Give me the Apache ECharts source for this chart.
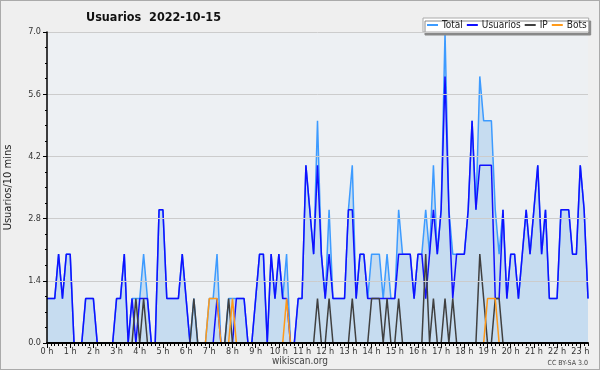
<!DOCTYPE html>
<html>
<head>
<meta charset="utf-8">
<script src="https://cdn.jsdelivr.net/npm/echarts@6/dist/echarts.min.js"></script>
<style>
html,body{margin:0;padding:0;background:#efefef;}
#c{width:600px;height:370px;box-sizing:border-box;border:1px solid #aaaaaa;}
</style>
</head>
<body>
<div id="c"></div>
<script>
// 10-minute slots from 00:00 to 23:20 (141 points)
const hourLabels = ["0 h","1 h","2 h","3 h","4 h","5 h","6 h","7 h","8 h","9 h","10 h","11 h","12 h","13 h","14 h","15 h","16 h","17 h","18 h","19 h","20 h","21 h","22 h","23 h"];
const slots = [];
for (let h = 0; h < 24; h++) for (let m = 0; m < 60; m += 10) slots.push((h < 10 ? '0' : '') + h + ':' + (m === 0 ? '00' : m));
const categories = slots.slice(0, 141);

const total = [
1,1,1,2,1,2,2,0,0,0,
1,1,1,0,0,0,0,0,1,1,
2,0,1,1,1,2,1,0,0,3,
3,1,1,1,1,2,1,0,1,0,
0,0,1,1,2,0,0,1,1,1,
1,1,0,0,1,2,2,0,2,1,
2,1,2,0,0,1,1,4,3,2,
5,2,1,3,1,1,1,1,3,4,
1,2,2,1,2,2,2,1,2,1,
1,3,2,2,2,1,2,2,3,2,
4,2,3,7,3,2,2,2,2,3,
5,3,6,5,5,5,3,2,3,1,
2,2,1,2,3,2,3,4,2,3,
1,1,1,3,3,3,2,2,4,3,
1];
const usuarios = [
1,1,1,2,1,2,2,0,0,0,
1,1,1,0,0,0,0,0,1,1,
2,0,1,0,1,1,1,0,0,3,
3,1,1,1,1,2,1,0,0,0,
0,0,0,0,1,0,0,0,0,1,
1,1,0,0,1,2,2,0,2,1,
2,1,1,0,0,1,1,4,3,2,
4,2,1,2,1,1,1,1,3,3,
1,2,2,1,1,1,1,1,1,1,
1,2,2,2,2,1,2,2,1,2,
3,2,3,6,3,1,2,2,2,3,
5,3,4,4,4,4,1,1,3,1,
2,2,1,2,3,2,3,4,2,3,
1,1,1,3,3,3,2,2,4,3,
1];
const ip = [
0,0,0,0,0,0,0,0,0,0,
0,0,0,0,0,0,0,0,0,0,
0,0,0,1,0,1,0,0,0,0,
0,0,0,0,0,0,0,0,1,0,
0,0,0,0,0,0,0,1,0,0,
0,0,0,0,0,0,0,0,0,0,
0,0,0,0,0,0,0,0,0,0,
1,0,0,1,0,0,0,0,0,1,
0,0,0,0,1,1,1,0,1,0,
0,1,0,0,0,0,0,0,2,0,
1,0,0,1,0,1,0,0,0,0,
0,0,2,1,0,0,1,1,0,0,
0,0,0,0,0,0,0,0,0,0,
0,0,0,0,0,0,0,0,0,0,
0];
const bots = [
0,0,0,0,0,0,0,0,0,0,
0,0,0,0,0,0,0,0,0,0,
0,0,0,0,0,0,0,0,0,0,
0,0,0,0,0,0,0,0,0,0,
0,0,1,1,1,0,0,0,1,0,
0,0,0,0,0,0,0,0,0,0,
0,0,1,0,0,0,0,0,0,0,
0,0,0,0,0,0,0,0,0,0,
0,0,0,0,0,0,0,0,0,0,
0,0,0,0,0,0,0,0,0,0,
0,0,0,0,0,0,0,0,0,0,
0,0,0,0,1,1,1,0,0,0,
0,0,0,0,0,0,0,0,0,0,
0,0,0,0,0,0,0,0,0,0,
0];

const FONT = '"DejaVu Sans Condensed", "DejaVu Sans", sans-serif';
const chart = echarts.init(document.getElementById('c'), null, {renderer: 'canvas'});
const lineSeries = (name, data, color, extra) => Object.assign({
  name, type: 'line', data, showSymbol: false, symbol: 'none',
  lineStyle: {color, width: 1.5}, itemStyle: {color},
  emphasis: {disabled: true}, animation: false
}, extra || {});

chart.setOption({
  backgroundColor: '#efefef',
  animation: false,
  textStyle: {fontFamily: FONT},
  title: {
    text: 'Usuarios  2022-10-15', left: 85, top: 10, padding: 0,
    textStyle: {fontFamily: FONT, fontSize: 12.5, fontWeight: 'bold', color: '#111'}
  },
  legend: {
    left: 422, top: 17, padding: [2, 2, 2, 4], itemGap: 4,
    itemWidth: 11, itemHeight: 2, icon: 'rect',
    backgroundColor: '#ffffff', borderColor: '#aaaaaa', borderWidth: 1,
    shadowColor: '#888888', shadowOffsetX: 2, shadowOffsetY: 3, shadowBlur: 0,
    textStyle: {fontFamily: FONT, fontSize: 10, color: '#222', padding: [0, 0, 0, -1]},
    data: ['Total', 'Usuarios', 'IP', 'Bots']
  },
  grid: {left: 46, right: 11, top: 31, bottom: 26, show: true, backgroundColor: '#edf0f3', borderWidth: 0,
         containLabel: false, outerBoundsMode: 'none'},
  xAxis: [{
    type: 'category', data: categories, boundaryGap: false, z: 10,
    axisLine: {lineStyle: {color: '#000', width: 2}},
    axisTick: {interval: 0, length: 3, lineStyle: {color: '#000'}},
    axisLabel: {
      interval: 5, margin: 4, fontSize: 9, color: '#333', fontFamily: FONT,
      formatter: (v, i) => hourLabels[Math.floor(i / 6)]
    },
    splitLine: {show: false}
  }, {
    type: 'category', data: categories, boundaryGap: false, position: 'bottom', z: 10,
    axisLine: {show: false},
    axisTick: {interval: 5, length: 5, lineStyle: {color: '#000'}},
    axisLabel: {show: false}, splitLine: {show: false}
  }],
  yAxis: {
    type: 'value', min: 0, max: 7, interval: 1.4, z: 10,
    name: 'Usuarios/10 mins', nameLocation: 'middle', nameGap: 33, nameRotate: 90,
    nameTextStyle: {fontFamily: FONT, fontSize: 11, color: '#222'},
    axisLine: {show: true, lineStyle: {color: '#000', width: 1.5}},
    axisTick: {show: true, length: 4, lineStyle: {color: '#000'}},
    minorTick: {show: true, splitNumber: 4, length: 2, lineStyle: {color: '#000'}},
    axisLabel: {fontSize: 9, color: '#333', margin: 6, fontFamily: FONT, formatter: v => v.toFixed(1)},
    splitLine: {show: true, lineStyle: {color: '#cccccc', width: 1}}
  },
  graphic: [
    {type: 'text', left: 'center', top: 355, style: {text: 'wikiscan.org', font: '10px ' + FONT, fill: '#444'}},
    {type: 'text', right: 11, top: 359, style: {text: 'CC BY-SA 3.0', font: '7px ' + FONT, fill: '#444'}}
  ],
  series: [
    lineSeries('Total', total, '#3d9bff', {areaStyle: {color: '#c6dcf0', opacity: 1}}),
    lineSeries('Usuarios', usuarios, '#1010ff'),
    lineSeries('IP', ip, '#404040'),
    lineSeries('Bots', bots, '#ff9a1a')
  ]
});
</script>
</body>
</html>
